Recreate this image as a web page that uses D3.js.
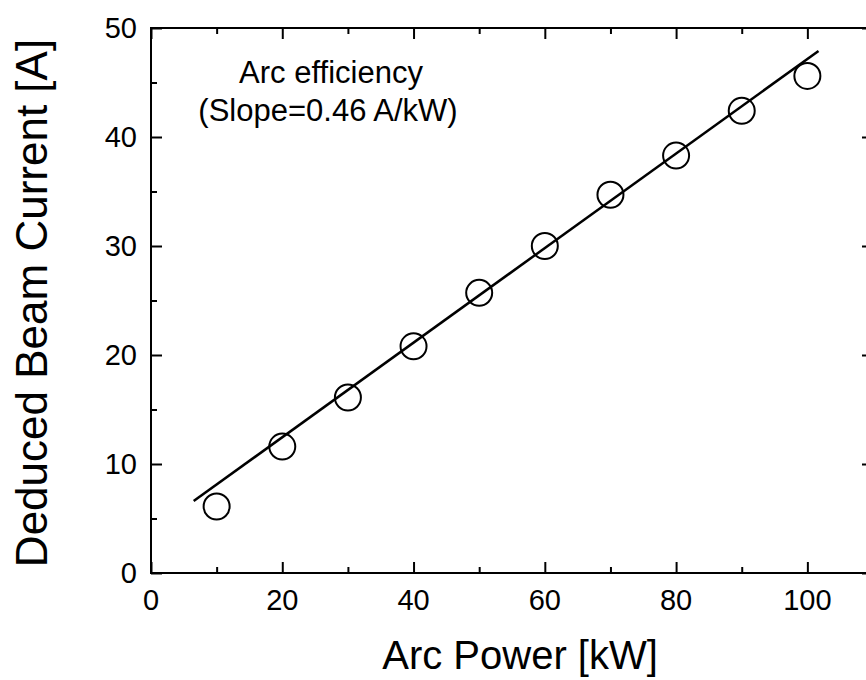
<!DOCTYPE html>
<html lang="en">
  <head>
    <meta charset="UTF-8" />
    <title>Arc Power vs Beam Current</title>
    <script src="https://d3js.org/d3.v7.min.js"></script>
    <style>
      body { margin: 0; background: #fff; }
      text { font-family: "Liberation Sans", Arial, sans-serif; fill: #000; }
    </style>
  </head>
  <body>
    <svg width="866" height="680" id="chart"></svg>

    <script>
      // measured points
      const power = [10, 20, 30, 40, 50, 60, 70, 80, 90, 100];
      const current = [6.1, 11.6, 16.1, 20.8, 25.7, 30.0, 34.7, 38.3, 42.4, 45.6];

      // fitted line end points
      const fitX = [6.5, 101.7];
      const fitY = [6.6, 47.9];

      const xTicks = [0, 20, 40, 60, 80, 100];
      const yTicks = [0, 10, 20, 30, 40, 50];
      const xMinor = [10, 30, 50, 70, 90, 110];
      const yMinor = [5, 15, 25, 35, 45];

      const svg = d3.select("#chart");
      const plot = { left: 151, right: 873, top: 28, bottom: 573 };

      const x = d3.scaleLinear().domain([0, 110]).range([plot.left, plot.right]);
      const y = d3.scaleLinear().domain([0, 50]).range([plot.bottom, plot.top]);

      // frame
      svg.append("rect")
        .attr("x", plot.left).attr("y", plot.top)
        .attr("width", plot.right - plot.left).attr("height", plot.bottom - plot.top)
        .attr("fill", "none").attr("stroke", "#000").attr("stroke-width", 2);

      // inward ticks on all four sides
      const noDomain = (g) => g.select(".domain").remove();
      const major = 11, minor = 6;

      function ticks(axis, pos, vals, size) {
        const isX = axis === d3.axisTop || axis === d3.axisBottom;
        svg.append("g")
          .attr("transform", isX ? `translate(0,${pos})` : `translate(${pos},0)`)
          .call(axis(isX ? x : y).tickValues(vals).tickSize(size).tickFormat(""))
          .call(noDomain);
      }
      ticks(d3.axisTop, plot.bottom, xTicks, major);
      ticks(d3.axisTop, plot.bottom, xMinor, minor);
      ticks(d3.axisBottom, plot.top, xTicks, major);
      ticks(d3.axisBottom, plot.top, xMinor, minor);
      ticks(d3.axisRight, plot.left, yTicks, major);
      ticks(d3.axisRight, plot.left, yMinor, minor);
      ticks(d3.axisLeft, plot.right, yTicks, major);
      ticks(d3.axisLeft, plot.right, yMinor, minor);
      svg.selectAll(".tick line").attr("stroke", "#000").attr("stroke-width", 2);

      // tick labels
      svg.append("g").selectAll("text").data(xTicks).join("text")
        .attr("x", (d) => x(d)).attr("y", plot.bottom + 37)
        .attr("text-anchor", "middle").attr("font-size", 29)
        .text((d) => d);
      svg.append("g").selectAll("text").data(yTicks).join("text")
        .attr("x", plot.left - 14).attr("y", (d) => y(d) + 10)
        .attr("text-anchor", "end").attr("font-size", 29)
        .text((d) => d);

      // axis titles
      svg.append("text")
        .attr("x", 520).attr("y", 669)
        .attr("text-anchor", "middle").attr("font-size", 40)
        .text("Arc Power [kW]");
      svg.append("text")
        .attr("transform", "translate(47,303) rotate(-90)")
        .attr("text-anchor", "middle").attr("font-size", 44)
        .text("Deduced Beam Current [A]");

      // fit line
      const line = d3.line().x((d) => x(d[0])).y((d) => y(d[1]));
      svg.append("path")
        .datum(d3.zip(fitX, fitY))
        .attr("d", line)
        .attr("fill", "none").attr("stroke", "#000").attr("stroke-width", 2.5);

      // open circles
      svg.append("g").selectAll("circle").data(d3.zip(power, current)).join("circle")
        .attr("cx", (d) => x(d[0])).attr("cy", (d) => y(d[1]))
        .attr("r", 13)
        .attr("fill", "none").attr("stroke", "#000").attr("stroke-width", 2);

      // annotation
      const note = svg.append("text").attr("text-anchor", "middle").attr("font-size", 31);
      note.append("tspan").attr("x", 331).attr("y", 83).text("Arc efficiency");
      note.append("tspan").attr("x", 328).attr("y", 121).text("(Slope=0.46 A/kW)");
    </script>
  </body>
</html>
